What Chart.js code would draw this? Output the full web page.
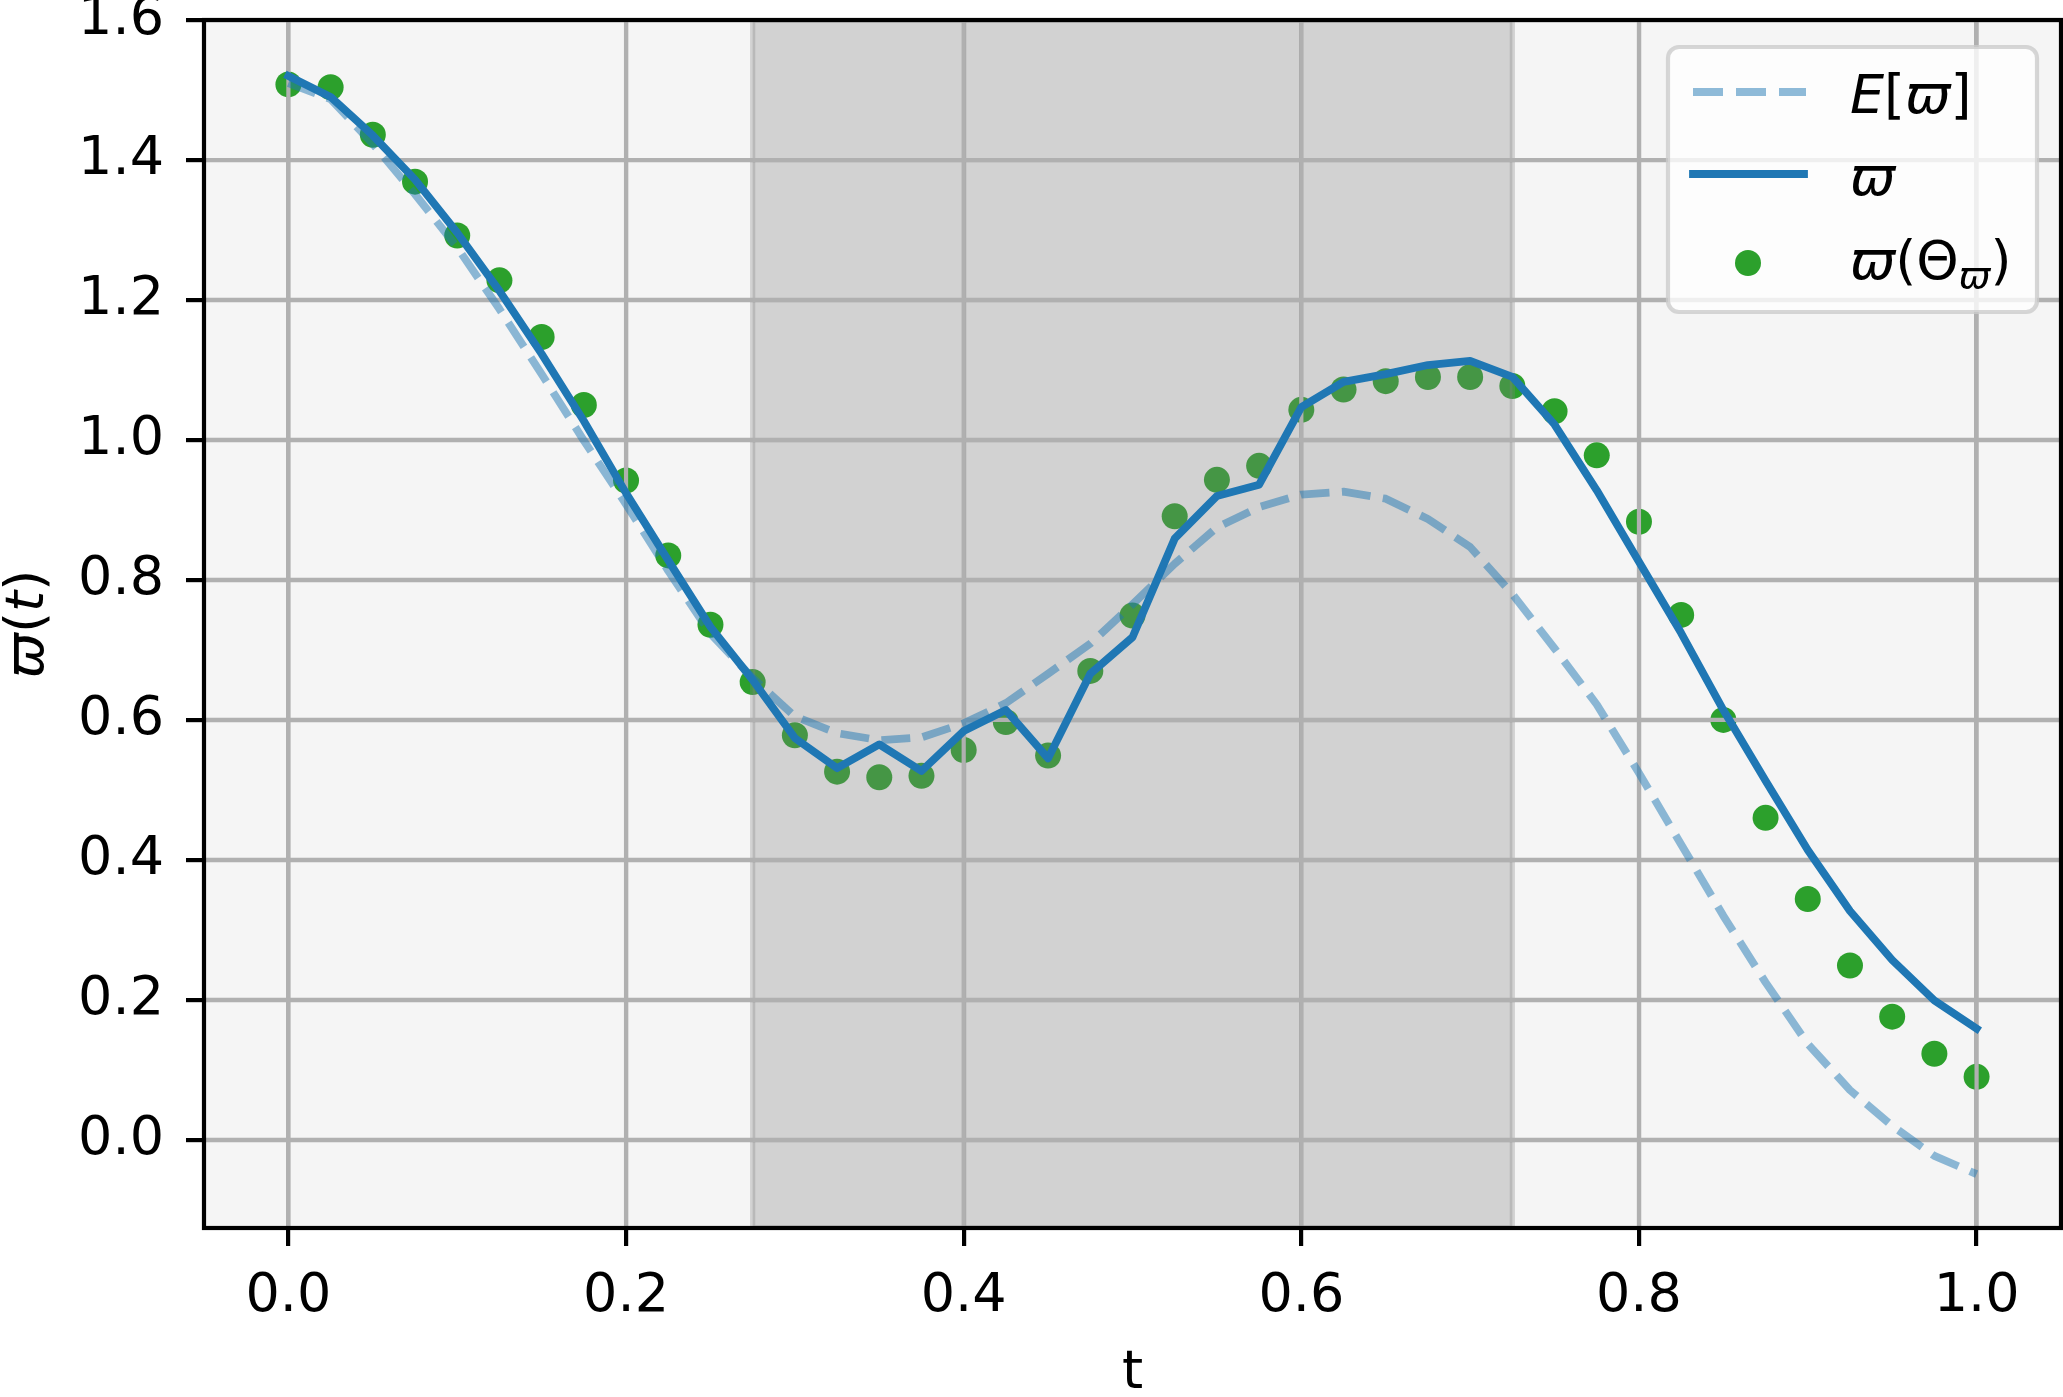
<!DOCTYPE html>
<html><head><meta charset="utf-8">
<script src="https://cdn.jsdelivr.net/npm/chart.js@4"></script>
<style>html,body{margin:0;padding:0;background:#fff;overflow:hidden}canvas{display:block}</style>
</head><body>
<canvas id="c" width="2063" height="1397"></canvas>
<script>
// ---- data ----
const tValues = [0, 0.025, 0.05, 0.075, 0.1, 0.125, 0.15, 0.175, 0.2, 0.225,
  0.25, 0.275, 0.3, 0.325, 0.35, 0.375, 0.4, 0.425, 0.45, 0.475,
  0.5, 0.525, 0.55, 0.575, 0.6, 0.625, 0.65, 0.675, 0.7, 0.725,
  0.75, 0.775, 0.8, 0.825, 0.85, 0.875, 0.9, 0.925, 0.95, 0.975, 1.0];
const expectedValues = [1.510, 1.487, 1.423, 1.351, 1.275, 1.187, 1.094, 0.999, 0.908, 0.813,
  0.723, 0.660, 0.605, 0.581, 0.571, 0.575, 0.595, 0.624, 0.666, 0.709,
  0.765, 0.823, 0.875, 0.904, 0.922, 0.926, 0.916, 0.887, 0.847, 0.780,
  0.702, 0.622, 0.524, 0.422, 0.320, 0.225, 0.137, 0.071, 0.020, -0.023, -0.049];
const pathValues = [1.520, 1.490, 1.435, 1.372, 1.296, 1.213, 1.123, 1.027, 0.924, 0.828,
  0.733, 0.657, 0.574, 0.531, 0.565, 0.527, 0.584, 0.614, 0.545, 0.666,
  0.718, 0.859, 0.920, 0.936, 1.047, 1.083, 1.094, 1.107, 1.113, 1.090,
  1.022, 0.928, 0.826, 0.724, 0.614, 0.513, 0.414, 0.327, 0.257, 0.199, 0.159];
const sampleValues = [1.508, 1.504, 1.436, 1.369, 1.292, 1.228, 1.147, 1.050, 0.942, 0.835,
  0.736, 0.654, 0.578, 0.526, 0.518, 0.520, 0.557, 0.597, 0.549, 0.670,
  0.749, 0.891, 0.943, 0.963, 1.043, 1.072, 1.084, 1.090, 1.090, 1.077,
  1.041, 0.978, 0.883, 0.750, 0.600, 0.460, 0.344, 0.249, 0.176, 0.123, 0.090];
const xTicks = [0, 0.2, 0.4, 0.6, 0.8, 1.0];
const xTickLabels = ['0.0', '0.2', '0.4', '0.6', '0.8', '1.0'];
const yTicks = [0, 0.2, 0.4, 0.6, 0.8, 1.0, 1.2, 1.4, 1.6];
const yTickLabels = ['0.0', '0.2', '0.4', '0.6', '0.8', '1.0', '1.2', '1.4', '1.6'];
const shadedSpan = [0.275, 0.725];
const seriesLabels = ['E[ϖ]', 'ϖ', 'ϖ(Θϖ)'];
const xTitle = 't';

// ---- styles ----
const FAM = '"DejaVu Sans"';
const FS = 54;
const GRID = '#b0b0b0';
const LW = 4.2;
const BLUE = '#1f77b4';
const BLUE_A = 'rgba(31,119,180,0.5)';
const GREEN = '#2ca02c';

function drawRich(ctx, x, y, parts) {
  let cx = x;
  parts.forEach(p => {
    const size = FS * (p.s || 1);
    ctx.font = (p.i ? 'italic ' : '') + size + 'px ' + FAM;
    ctx.fillText(p.t, cx, y + (p.dy || 0));
    cx += ctx.measureText(p.t).width;
  });
  return cx - x;
}
function richWidth(ctx, parts) {
  let w = 0;
  parts.forEach(p => {
    ctx.font = (p.i ? 'italic ' : '') + (FS * (p.s || 1)) + 'px ' + FAM;
    w += ctx.measureText(p.t).width;
  });
  return w;
}

function drawGrid(chart) {
  const {ctx, chartArea: a, scales: {x, y}} = chart;
  ctx.save();
  ctx.beginPath(); ctx.rect(a.left, a.top, a.right - a.left, a.bottom - a.top); ctx.clip();
  ctx.strokeStyle = GRID; ctx.lineWidth = LW;
  ctx.beginPath();
  xTicks.forEach(v => { const p = x.getPixelForValue(v); ctx.moveTo(p, a.top); ctx.lineTo(p, a.bottom); });
  yTicks.forEach(v => { const p = y.getPixelForValue(v); ctx.moveTo(a.left, p); ctx.lineTo(a.right, p); });
  ctx.stroke();
  ctx.restore();
}

const custom = {
  id: 'custom',
  beforeDraw(chart) {
    const {ctx, chartArea: a} = chart;
    ctx.save();
    ctx.fillStyle = '#f5f5f5';
    ctx.fillRect(a.left, a.top, a.right - a.left, a.bottom - a.top);
    ctx.restore();
  },
  afterDatasetDraw(chart, args) {
    if (args.index !== 2) return;
    const {ctx, chartArea: a, scales: {x}} = chart;
    const x0 = x.getPixelForValue(shadedSpan[0]);
    const x1 = x.getPixelForValue(shadedSpan[1]);
    ctx.save();
    ctx.beginPath(); ctx.rect(a.left, a.top, a.right - a.left, a.bottom - a.top); ctx.clip();
    ctx.fillStyle = 'rgba(128,128,128,0.3)';
    ctx.fillRect(x0, a.top, x1 - x0, a.bottom - a.top);
    ctx.strokeStyle = 'rgba(128,128,128,0.3)';
    ctx.lineWidth = 5.2;
    ctx.strokeRect(x0, a.top, x1 - x0, a.bottom - a.top);
    ctx.restore();
    drawGrid(chart);
  },
  afterDatasetsDraw(chart) {
    const {ctx, chartArea: a} = chart;
    ctx.save();
    ctx.strokeStyle = '#000'; ctx.lineWidth = LW; ctx.lineJoin = 'miter';
    ctx.strokeRect(a.left, a.top, a.right - a.left, a.bottom - a.top);
    ctx.restore();
  },
  afterDraw(chart) {
    const {ctx, chartArea: a} = chart;
    ctx.save();
    // axis titles
    ctx.fillStyle = '#000';
    ctx.textBaseline = 'alphabetic';
    ctx.textAlign = 'center';
    ctx.font = FS + 'px ' + FAM;
    ctx.fillText(xTitle, (a.left + a.right) / 2, 1388);
    ctx.textAlign = 'left';
    const yParts = [{t: 'ϖ', i: true}, {t: '('}, {t: 't', i: true}, {t: ')'}];
    const yw = richWidth(ctx, yParts);
    ctx.save();
    ctx.translate(43, (a.top + a.bottom) / 2);
    ctx.rotate(-Math.PI / 2);
    drawRich(ctx, -yw / 2, 0, yParts);
    ctx.restore();

    // legend
    const L = {x: 1668, y: 47, w: 369, h: 265, r: 11};
    ctx.beginPath();
    ctx.roundRect(L.x, L.y, L.w, L.h, L.r);
    ctx.fillStyle = 'rgba(255,255,255,0.8)';
    ctx.fill();
    ctx.strokeStyle = 'rgba(204,204,204,0.8)';
    ctx.lineWidth = LW;
    ctx.stroke();

    // handle 1: dashed
    ctx.strokeStyle = BLUE_A; ctx.lineWidth = 7.8; ctx.lineCap = 'butt';
    ctx.setLineDash([30, 13]);
    ctx.beginPath(); ctx.moveTo(1693, 92); ctx.lineTo(1806, 92); ctx.stroke();
    ctx.setLineDash([]);
    // handle 2: solid
    ctx.strokeStyle = BLUE; ctx.lineCap = 'square';
    ctx.beginPath(); ctx.moveTo(1693, 174); ctx.lineTo(1804, 174); ctx.stroke();
    // handle 3: dot
    ctx.fillStyle = GREEN;
    ctx.beginPath(); ctx.arc(1748, 263, 13, 0, Math.PI * 2); ctx.fill();

    ctx.fillStyle = '#000';
    ctx.textAlign = 'left';
    drawRich(ctx, 1850, 113, [{t: 'E', i: true}, {t: '['}, {t: 'ϖ', i: true}, {t: ']'}]);
    drawRich(ctx, 1850, 195, [{t: 'ϖ', i: true}]);
    drawRich(ctx, 1850, 279, [{t: 'ϖ', i: true}, {t: '('}, {t: 'Θ'}, {t: 'ϖ', i: true, s: 0.7, dy: 9}, {t: ')'}]);
    ctx.restore();
  }
};

const tickFont = {family: 'DejaVu Sans', size: FS};

new Chart(document.getElementById('c').getContext('2d'), {
  type: 'scatter',
  data: {
    datasets: [
      {
        label: seriesLabels[0],
        data: tValues.map((t, i) => ({x: t, y: expectedValues[i]})),
        showLine: true, fill: false, tension: 0,
        borderColor: BLUE_A, borderWidth: 7.8, borderDash: [28.9, 12.5],
        borderCapStyle: 'butt', borderJoinStyle: 'round',
        pointRadius: 0, pointHoverRadius: 0, order: 2
      },
      {
        label: seriesLabels[1],
        data: tValues.map((t, i) => ({x: t, y: pathValues[i]})),
        showLine: true, fill: false, tension: 0,
        borderColor: BLUE, borderWidth: 7.8,
        borderCapStyle: 'square', borderJoinStyle: 'round',
        pointRadius: 0, pointHoverRadius: 0, order: 1
      },
      {
        label: seriesLabels[2],
        data: tValues.map((t, i) => ({x: t, y: sampleValues[i]})),
        showLine: false,
        pointRadius: 13, pointHoverRadius: 13,
        backgroundColor: GREEN, pointBackgroundColor: GREEN,
        borderWidth: 0, pointBorderWidth: 0, order: 3
      }
    ]
  },
  options: {
    responsive: false, devicePixelRatio: 1, animation: false, events: [],
    layout: {autoPadding: false, padding: {left: 0, top: 20, right: 2, bottom: 0}},
    plugins: {legend: {display: false}, tooltip: {enabled: false}, title: {display: false}},
    scales: {
      x: {
        type: 'linear', position: 'bottom', min: -0.05, max: 1.05,
        afterBuildTicks: s => { s.ticks = xTicks.map(v => ({value: v})); },
        afterFit: s => { s.height = 169; s.paddingLeft = 0; s.paddingRight = 0; },
        ticks: {font: tickFont, color: '#000', padding: 19, maxRotation: 0, autoSkip: false,
          callback: (v, i) => xTickLabels[i]},
        grid: {color: GRID, lineWidth: LW, tickLength: 18, tickColor: '#000', tickWidth: LW},
        border: {display: false}
      },
      y: {
        type: 'linear', position: 'left', min: -0.126, max: 1.6,
        afterBuildTicks: s => { s.ticks = yTicks.map(v => ({value: v})); },
        afterFit: s => { s.width = 204; s.paddingTop = 0; s.paddingBottom = 0; },
        ticks: {font: tickFont, color: '#000', padding: 22, autoSkip: false,
          callback: (v, i) => yTickLabels[i]},
        grid: {color: GRID, lineWidth: LW, tickLength: 18, tickColor: '#000', tickWidth: LW},
        border: {display: false}
      }
    }
  },
  plugins: [custom]
});
</script>
</body></html>
